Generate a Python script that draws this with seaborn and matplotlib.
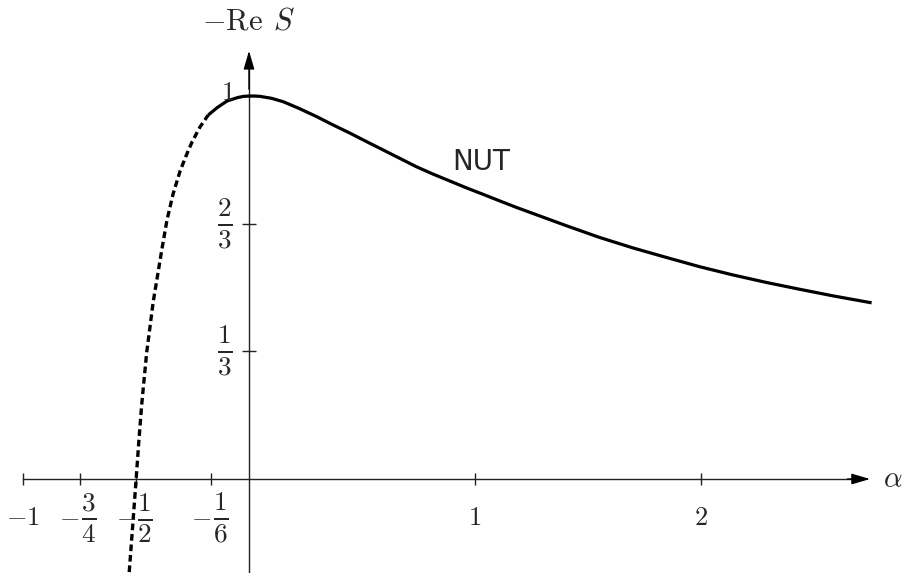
import numpy as np
import pandas as pd
import matplotlib
matplotlib.use("Agg")
import matplotlib.pyplot as plt
import seaborn as sns

# Branch of -Re S to the left of alpha = -1/6 (dashed)
alpha_dashed = [-0.530, -0.515, -0.500, -0.488, -0.475, -0.453, -0.424, -0.386,
                -0.363, -0.336, -0.305, -0.279, -0.252, -0.217, -0.181]
res_dashed = [-0.243, -0.125, -0.005, 0.094, 0.193, 0.329, 0.462, 0.598,
              0.676, 0.744, 0.804, 0.843, 0.880, 0.919, 0.950]

# NUT branch (solid)
alpha_solid = [-0.181, -0.140, -0.097, -0.050, -0.025, 0.000, 0.025, 0.050, 0.100,
               0.152, 0.220, 0.300, 0.370, 0.447, 0.520, 0.594, 0.668, 0.742,
               0.815, 0.889, 0.963, 1.037, 1.110, 1.184, 1.258, 1.332, 1.406,
               1.550, 1.701, 1.850, 1.996, 2.140, 2.291, 2.440, 2.586, 2.755]
res_solid = [0.950, 0.970, 0.987, 0.996, 0.999, 1.000, 1.000, 0.999, 0.994,
             0.985, 0.968, 0.946, 0.925, 0.903, 0.881, 0.859, 0.837, 0.815,
             0.796, 0.778, 0.760, 0.743, 0.726, 0.709, 0.693, 0.677, 0.661,
             0.631, 0.603, 0.578, 0.554, 0.533, 0.513, 0.495, 0.478, 0.460]

x_tick_values = [-1, -3/4, -1/2, -1/6, 1, 2]
x_tick_labels = ["-1", "-3/4", "-1/2", "-1/6", "1", "2"]
y_tick_values = [1/3, 2/3, 1]
y_tick_labels = ["1/3", "2/3", "1"]

sns.set_theme(style="white")
plt.rcParams["mathtext.fontset"] = "cm"
plt.rcParams["font.family"] = ["DejaVu Sans"]

fig = plt.figure(figsize=(9.05, 5.73), dpi=100)
ax = fig.add_axes([0, 0, 1, 1])
ax.set_xlim(-1.1018, 2.9027)
ax.set_ylim(-0.2454, 1.2507)

dashed = pd.DataFrame({"alpha": alpha_dashed, "res": res_dashed})
solid = pd.DataFrame({"alpha": alpha_solid, "res": res_solid})
sns.lineplot(data=dashed, x="alpha", y="res", ax=ax, color="black", lw=2.4,
             linestyle=(0, (2.0, 1.15)), zorder=3)
sns.lineplot(data=solid, x="alpha", y="res", ax=ax, color="black", lw=2.3,
             solid_capstyle="butt", solid_joinstyle="round", zorder=3)
ax.set_xlabel("")
ax.set_ylabel("")

# Axes through the origin
axis_color = "#222222"
x_tip, y_tip = 2.748, 1.118
for side in ("top", "right"):
    ax.spines[side].set_visible(False)
ax.spines["bottom"].set_position(("data", 0))
ax.spines["left"].set_position(("data", 0))
ax.spines["bottom"].set_bounds(-1, x_tip - 0.03)
ax.spines["left"].set_bounds(-0.2454, y_tip - 0.03)
for side in ("bottom", "left"):
    ax.spines[side].set_color(axis_color)
    ax.spines[side].set_linewidth(1.0)
    ax.spines[side].set_zorder(2)

arrow = dict(arrowstyle="-|>,head_length=0.75,head_width=0.22", color="black",
             lw=1.0, mutation_scale=15, shrinkA=0, shrinkB=0)
ax.annotate("", xy=(x_tip, 0), xytext=(x_tip - 0.1, 0), arrowprops=arrow)
ax.annotate("", xy=(0, y_tip), xytext=(0, y_tip - 0.1), arrowprops=arrow)

ax.set_xticks(x_tick_values)
ax.set_yticks(y_tick_values)
ax.set_xticklabels([])
ax.set_yticklabels([])
ax.tick_params(axis="x", direction="inout", length=9, width=1.0, color=axis_color,
               bottom=True)
ax.tick_params(axis="y", direction="inout", length=10.5, width=1.0, color=axis_color,
               left=True)
ax.grid(False)

PLAIN = 19   # size of whole-number labels and the minus sign
FRAC = 28    # fractions render at reduced size inside mathtext


def tick_label(xy, text, dx, dy):
    """Write a signed integer or fraction label centred at (dx, dy) pixels from xy."""
    neg = text.startswith("-")
    body = text[1:] if neg else text
    if "/" in body:
        num, den = body.split("/")
        if neg:
            ax.annotate(r"$-$", xy=xy, xytext=(dx - 10, dy + 1),
                        textcoords="offset pixels", ha="center", va="center",
                        fontsize=PLAIN)
            dx += 9
        ax.annotate(r"$\frac{%s}{%s}$" % (num, den), xy=xy, xytext=(dx, dy),
                    textcoords="offset pixels", ha="center", va="center",
                    fontsize=FRAC)
    else:
        ax.annotate(r"$%s$" % text, xy=xy, xytext=(dx, dy),
                    textcoords="offset pixels", ha="center", va="center",
                    fontsize=PLAIN)


for v, lab in zip(x_tick_values, x_tick_labels):
    tick_label((v, 0), lab, 0, -39)
for v, lab in zip(y_tick_values, y_tick_labels):
    tick_label((0, v), lab, -24 if "/" in lab else -21, 0 if "/" in lab else 3)

ax.annotate(r"$\alpha$", xy=(x_tip, 0), xytext=(23, 0), textcoords="offset pixels",
            ha="center", va="center", fontsize=21)
ax.annotate(r"$-\mathrm{Re}\;\,S$", xy=(0, y_tip), xytext=(0, 30),
            textcoords="offset pixels", ha="center", va="center", fontsize=22)

ax.text(1.027, 0.828, "NUT", ha="center", va="center", fontsize=20,
        family="DejaVu Sans")

fig.savefig("out.png", dpi=100)
